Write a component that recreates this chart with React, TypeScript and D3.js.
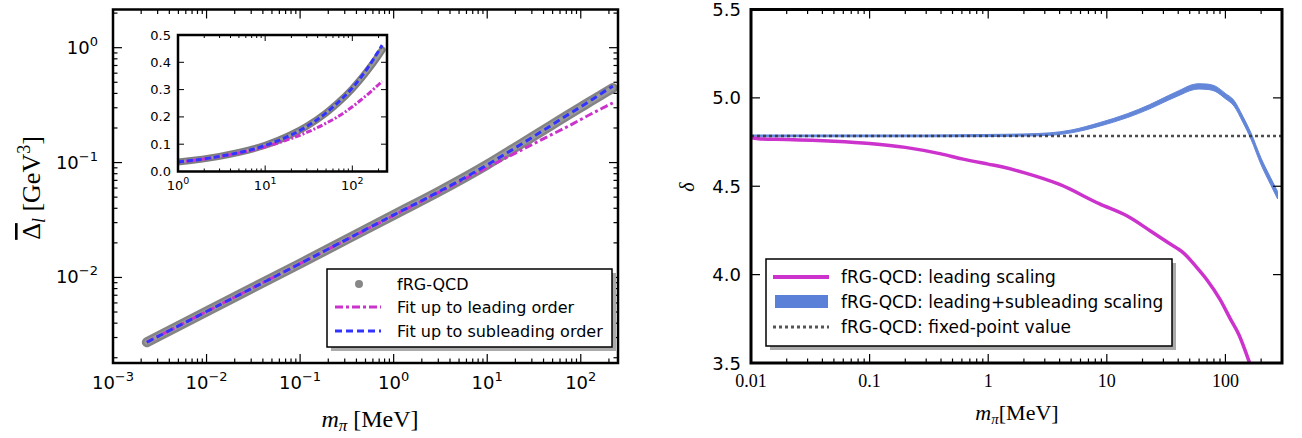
import React from 'react';
import * as d3 from 'd3';

// ---------- Left panel data (m_pi [MeV], Delta_l [GeV^3]) ----------
const mLeft = [0.0023, 0.01, 0.1, 1, 3, 10, 20, 30, 50, 70, 100, 130, 160, 190, 220];
const deltaFRG = [0.00273, 0.00505, 0.0132, 0.035, 0.0556, 0.096, 0.1355, 0.166, 0.2145, 0.254, 0.303, 0.345, 0.382, 0.415, 0.445];
const deltaLead = [0.00273, 0.00505, 0.0132, 0.0346, 0.0548, 0.0906, 0.121, 0.143, 0.177, 0.203, 0.237, 0.266, 0.29, 0.312, 0.33];
const deltaSub = [0.00273, 0.00505, 0.0132, 0.035, 0.0554, 0.0955, 0.1345, 0.165, 0.2145, 0.2555, 0.306, 0.351, 0.392, 0.43, 0.463];

// ---------- Right panel data ----------
const mLead = [0.01, 0.012, 0.02, 0.05, 0.1, 0.2, 0.4, 0.6, 1, 1.3, 2, 4, 8.7, 15, 23, 33, 43, 48, 55, 70, 90, 110, 130, 160, 180];
const deltaLeadScaling = [4.775, 4.768, 4.765, 4.755, 4.742, 4.72, 4.683, 4.655, 4.625, 4.61, 4.577, 4.51, 4.4, 4.33, 4.25, 4.18, 4.13, 4.1, 4.055, 3.97, 3.86, 3.75, 3.66, 3.5, 3.4];
const mBand = [0.01, 0.03, 0.1, 0.3, 1, 2, 3.3, 5, 8.7, 15, 23, 33, 43, 50, 60, 70, 83, 100, 118, 140, 164, 200, 240, 275];
const bandCenter = [4.785, 4.785, 4.785, 4.785, 4.787, 4.79, 4.795, 4.81, 4.85, 4.9, 4.95, 5.0, 5.035, 5.055, 5.065, 5.063, 5.05, 5.01, 4.97, 4.88, 4.785, 4.64, 4.53, 4.45];
const bandHalf = [0.005, 0.005, 0.005, 0.005, 0.006, 0.006, 0.007, 0.008, 0.01, 0.011, 0.012, 0.013, 0.014, 0.015, 0.015, 0.015, 0.015, 0.015, 0.016, 0.017, 0.018, 0.019, 0.02, 0.021];
const fixedPoint = 4.785;

const leftYTicks = [0.01, 0.1, 1];
const leftXTicks = [1e-3, 1e-2, 1e-1, 1, 10, 100];
const insetYTicks = [0, 0.1, 0.2, 0.3, 0.4, 0.5];
const insetXTicks = [1, 10, 100];
const rightYTicks = [3.5, 4.0, 4.5, 5.0, 5.5];
const rightXTicks = [0.01, 0.1, 1, 10, 100];
const rightXTickLabels = ['0.01', '0.1', '1', '10', '100'];

const SANS = 'DejaVu Sans';
const SERIF = 'Liberation Serif';
const MAGENTA = '#cc33cc';
const BLUE = '#3333ff';
const BAND = '#5b80d8';

function logMinors(min: number, max: number) {
  const out: number[] = [];
  for (let k = Math.floor(Math.log10(min)); k <= Math.ceil(Math.log10(max)); k++) {
    for (let j = 2; j <= 9; j++) {
      const v = j * Math.pow(10, k);
      if (v > min * 1.0001 && v < max * 0.9999) out.push(v);
    }
  }
  return out;
}

function expLabel(v: number) {
  const e = Math.round(Math.log10(v));
  return e < 0 ? '\u2212' + Math.abs(e) : String(e);
}

export default function App() {
  const L = { x0: 113, x1: 618, y0: 9.5, y1: 363 };
  const xL = d3.scaleLog().domain([1e-3, 250]).range([L.x0, L.x1]);
  const yL = d3.scaleLog().domain([1.8e-3, 2.15]).range([L.y1, L.y0]);
  const I = { x0: 178, x1: 387, y0: 35, y1: 171.5 };
  const xI = d3.scaleLog().domain([1, 250]).range([I.x0, I.x1]);
  const yI = d3.scaleLinear().domain([0, 0.5]).range([I.y1, I.y0]);
  const R = { x0: 751, x1: 1282, y0: 9.5, y1: 363 };
  const xR = d3.scaleLog().domain([0.01, 300]).range([R.x0, R.x1]);
  const yR = d3.scaleLinear().domain([3.5, 5.5]).range([R.y1, R.y0]);

  const pairs = (xs: number[], ys: number[]) => xs.map((x, i) => [x, ys[i]] as [number, number]);

  const lineL = d3.line<[number, number]>().x(d => xL(d[0])).y(d => yL(d[1])).curve(d3.curveMonotoneX);
  const insetData = (ys: number[]) => pairs(mLeft, ys).filter(d => d[0] >= 1);
  const lineI = d3.line<[number, number]>().x(d => xI(d[0])).y(d => yI(d[1])).curve(d3.curveMonotoneX);
  const lineR = d3.line<[number, number]>().x(d => xR(d[0])).y(d => yR(d[1])).curve(d3.curveMonotoneX);
  const areaR = d3.area<number>()
    .x((_, i) => xR(mBand[i]))
    .y0((_, i) => yR(bandCenter[i] - bandHalf[i]))
    .y1((_, i) => yR(bandCenter[i] + bandHalf[i]))
    .curve(d3.curveMonotoneX);

  const spine = 2.5;
  const legFontL = 16;
  const legFontR = 17;
  const longLabelEm = 18.924;
  const rightBoxW = Math.round(841 - 766 + longLabelEm * legFontR + 9);

  return (
    <svg width={1302} height={438} style={{ position: 'absolute', left: 0, top: 0, background: '#fff' }}>
      <defs>
        <clipPath id="clipL"><rect x={L.x0} y={L.y0} width={L.x1 - L.x0} height={L.y1 - L.y0} /></clipPath>
        <clipPath id="clipI"><rect x={I.x0} y={I.y0 - 5} width={I.x1 - I.x0} height={I.y1 - I.y0 + 5} /></clipPath>
        <clipPath id="clipR"><rect x={R.x0} y={R.y0} width={R.x1 - R.x0} height={R.y1 - R.y0} /></clipPath>
      </defs>

      {/* ================= LEFT PANEL ================= */}
      <g clipPath="url(#clipL)">
        <path d={lineL(pairs(mLeft, deltaFRG)) || ''} fill="none" stroke="#777" strokeWidth={10} strokeLinecap="round" opacity={0.9} />
        <path d={lineL(pairs(mLeft, deltaFRG)) || ''} fill="none" stroke="#999" strokeWidth={5} strokeLinecap="round" />
        <path d={lineL(pairs(mLeft, deltaLead)) || ''} fill="none" stroke={MAGENTA} strokeWidth={3} strokeDasharray="8,3,3,3" />
        <path d={lineL(pairs(mLeft, deltaSub)) || ''} fill="none" stroke={BLUE} strokeWidth={3} strokeDasharray="7,4" />
      </g>
      <g stroke="#000" strokeWidth={1.2}>
        {leftXTicks.map(v => (
          <g key={'lx' + v}>
            <line x1={xL(v)} x2={xL(v)} y1={L.y1} y2={L.y1 - 9} />
            <line x1={xL(v)} x2={xL(v)} y1={L.y0} y2={L.y0 + 9} />
          </g>
        ))}
        {logMinors(1e-3, 250).map(v => (
          <g key={'lxm' + v}>
            <line x1={xL(v)} x2={xL(v)} y1={L.y1} y2={L.y1 - 4.5} />
            <line x1={xL(v)} x2={xL(v)} y1={L.y0} y2={L.y0 + 4.5} />
          </g>
        ))}
        {leftYTicks.map(v => (
          <g key={'ly' + v}>
            <line x1={L.x0} x2={L.x0 + 9} y1={yL(v)} y2={yL(v)} />
            <line x1={L.x1} x2={L.x1 - 9} y1={yL(v)} y2={yL(v)} />
          </g>
        ))}
        {logMinors(1.8e-3, 2.15).map(v => (
          <g key={'lym' + v}>
            <line x1={L.x0} x2={L.x0 + 4.5} y1={yL(v)} y2={yL(v)} />
            <line x1={L.x1} x2={L.x1 - 4.5} y1={yL(v)} y2={yL(v)} />
          </g>
        ))}
      </g>
      <rect x={L.x0} y={L.y0} width={L.x1 - L.x0} height={L.y1 - L.y0} fill="none" stroke="#000" strokeWidth={spine} />
      {leftXTicks.map(v => (
        <text key={'lxl' + v} x={xL(v)} y={389} textAnchor="middle" fontFamily={SANS} fontSize={18}>
          10<tspan dy={-8} fontSize={13}>{expLabel(v)}</tspan>
        </text>
      ))}
      {leftYTicks.map(v => (
        <text key={'lyl' + v} x={98} y={yL(v) + 6} textAnchor="end" fontFamily={SANS} fontSize={18}>
          10<tspan dy={-8} fontSize={13}>{expLabel(v)}</tspan>
        </text>
      ))}
      <text x={370} y={427} textAnchor="middle" fontFamily={SERIF} fontSize={24}>
        <tspan fontStyle="italic">m</tspan><tspan fontStyle="italic" fontSize={17} dy={4}>π</tspan><tspan dy={-4}> [MeV]</tspan>
      </text>
      <text transform="translate(40,188) rotate(-90)" textAnchor="middle" fontFamily={SERIF} fontSize={26}>
        <tspan textDecoration="overline" style={{ textDecoration: 'overline' }}>Δ</tspan><tspan fontStyle="italic" fontSize={18} dy={5}>l</tspan><tspan dy={-5}> [GeV</tspan><tspan fontSize={18} dy={-10}>3</tspan><tspan dy={10}>]</tspan>
      </text>

      {/* ---------- inset ---------- */}
      <rect x={I.x0} y={I.y0} width={I.x1 - I.x0} height={I.y1 - I.y0} fill="#fff" />
      <g clipPath="url(#clipI)">
        <path d={lineI(insetData(deltaFRG)) || ''} fill="none" stroke="#6f6f6f" strokeWidth={7} strokeLinecap="round" opacity={0.9} />
        <path d={lineI(insetData(deltaFRG)) || ''} fill="none" stroke="#999" strokeWidth={3} strokeLinecap="round" />
        <path d={lineI(insetData(deltaLead)) || ''} fill="none" stroke={MAGENTA} strokeWidth={3} strokeDasharray="6,2,2,2" />
        <path d={lineI(insetData(deltaSub)) || ''} fill="none" stroke={BLUE} strokeWidth={3} strokeDasharray="6,3" />
      </g>
      <g stroke="#000" strokeWidth={1}>
        {insetXTicks.map(v => (
          <g key={'ix' + v}>
            <line x1={xI(v)} x2={xI(v)} y1={I.y1} y2={I.y1 - 6} />
            <line x1={xI(v)} x2={xI(v)} y1={I.y0} y2={I.y0 + 6} />
          </g>
        ))}
        {logMinors(1, 250).map(v => (
          <g key={'ixm' + v}>
            <line x1={xI(v)} x2={xI(v)} y1={I.y1} y2={I.y1 - 3} />
            <line x1={xI(v)} x2={xI(v)} y1={I.y0} y2={I.y0 + 3} />
          </g>
        ))}
        {insetYTicks.map(v => (
          <g key={'iy' + v}>
            <line x1={I.x0} x2={I.x0 + 6} y1={yI(v)} y2={yI(v)} />
            <line x1={I.x1} x2={I.x1 - 6} y1={yI(v)} y2={yI(v)} />
          </g>
        ))}
      </g>
      <rect x={I.x0} y={I.y0} width={I.x1 - I.x0} height={I.y1 - I.y0} fill="none" stroke="#000" strokeWidth={2.5} />
      {insetYTicks.map(v => (
        <text key={'iyl' + v} x={171} y={yI(v) + 4.5} textAnchor="end" fontFamily={SANS} fontSize={13}>{v.toFixed(1)}</text>
      ))}
      {insetXTicks.map(v => (
        <text key={'ixl' + v} x={xI(v)} y={190} textAnchor="middle" fontFamily={SANS} fontSize={13}>
          10<tspan dy={-6} fontSize={9.5}>{expLabel(v)}</tspan>
        </text>
      ))}

      {/* ---------- left legend ---------- */}
      <rect x={331} y={273} width={285} height={78} fill="#aaa" />
      <rect x={327} y={269} width={285} height={78} fill="#fff" stroke="#000" strokeWidth={1.5} />
      <circle cx={359} cy={284} r={4} fill="#888" />
      <line x1={335} x2={381} y1={307} y2={307} stroke={MAGENTA} strokeWidth={3} strokeDasharray="8,3,3,3" />
      <line x1={335} x2={381} y1={331} y2={331} stroke={BLUE} strokeWidth={3} strokeDasharray="7,4" />
      <text x={397} y={289.5} fontFamily={SANS} fontSize={legFontL}>fRG-QCD</text>
      <text x={397} y={312.5} fontFamily={SANS} fontSize={legFontL}>Fit up to leading order</text>
      <text x={397} y={336.5} fontFamily={SANS} fontSize={legFontL}>Fit up to subleading order</text>

      {/* ================= RIGHT PANEL ================= */}
      <g clipPath="url(#clipR)">
        <path d={areaR(mBand) || ''} fill={BAND} stroke={BAND} strokeWidth={1} opacity={0.95} />
        <path d={lineR(pairs(mLead, deltaLeadScaling)) || ''} fill="none" stroke={MAGENTA} strokeWidth={3.5} />
        <line x1={xR(0.01)} x2={xR(300)} y1={yR(fixedPoint)} y2={yR(fixedPoint)} stroke="#3a3a3a" strokeWidth={2.5} strokeDasharray="3,3" opacity={0.9} />
      </g>
      <g stroke="#000" strokeWidth={1.2}>
        {rightXTicks.map(v => (
          <g key={'rx' + v}>
            <line x1={xR(v)} x2={xR(v)} y1={R.y1} y2={R.y1 - 9} />
            <line x1={xR(v)} x2={xR(v)} y1={R.y0} y2={R.y0 + 9} />
          </g>
        ))}
        {logMinors(0.01, 300).map(v => (
          <g key={'rxm' + v}>
            <line x1={xR(v)} x2={xR(v)} y1={R.y1} y2={R.y1 - 4.5} />
            <line x1={xR(v)} x2={xR(v)} y1={R.y0} y2={R.y0 + 4.5} />
          </g>
        ))}
        {rightYTicks.map(v => (
          <g key={'ry' + v}>
            <line x1={R.x0} x2={R.x0 + 9} y1={yR(v)} y2={yR(v)} />
            <line x1={R.x1} x2={R.x1 - 9} y1={yR(v)} y2={yR(v)} />
          </g>
        ))}
      </g>
      <rect x={R.x0} y={R.y0} width={R.x1 - R.x0} height={R.y1 - R.y0} fill="none" stroke="#000" strokeWidth={3} />
      {rightYTicks.map(v => (
        <text key={'ryl' + v} x={741} y={yR(v) + 6.5} textAnchor="end" fontFamily={SANS} fontSize={18}>{v.toFixed(1)}</text>
      ))}
      {rightXTicks.map((v, i) => (
        <text key={'rxl' + v} x={xR(v)} y={387} textAnchor="middle" fontFamily={SERIF} fontSize={18}>{rightXTickLabels[i]}</text>
      ))}
      <text x={1017} y={420} textAnchor="middle" fontFamily={SERIF} fontSize={22}>
        <tspan fontStyle="italic">m</tspan><tspan fontStyle="italic" fontSize={15} dy={4}>π</tspan><tspan dy={-4}>[MeV]</tspan>
      </text>
      <text transform="translate(694,187) rotate(-90)" textAnchor="middle" fontFamily={SERIF} fontStyle="italic" fontSize={20}>δ</text>

      {/* ---------- right legend ---------- */}
      <rect x={770} y={263} width={rightBoxW} height={87} fill="#aaa" />
      <rect x={766} y={259} width={rightBoxW} height={87} fill="#fff" stroke="#000" strokeWidth={1.5} />
      <line x1={773} x2={829} y1={277} y2={277} stroke={MAGENTA} strokeWidth={4} />
      <rect x={775} y={295} width={53} height={13} fill={BAND} />
      <line x1={773} x2={829} y1={327} y2={327} stroke="#555" strokeWidth={3} strokeDasharray="3,3" />
      <text x={841} y={283} fontFamily={SANS} fontSize={legFontR}>fRG-QCD: leading scaling</text>
      <text x={841} y={307.5} fontFamily={SANS} fontSize={legFontR}>fRG-QCD: leading+subleading scaling</text>
      <text x={841} y={333} fontFamily={SANS} fontSize={legFontR}>fRG-QCD: fixed-point value</text>
    </svg>
  );
}
